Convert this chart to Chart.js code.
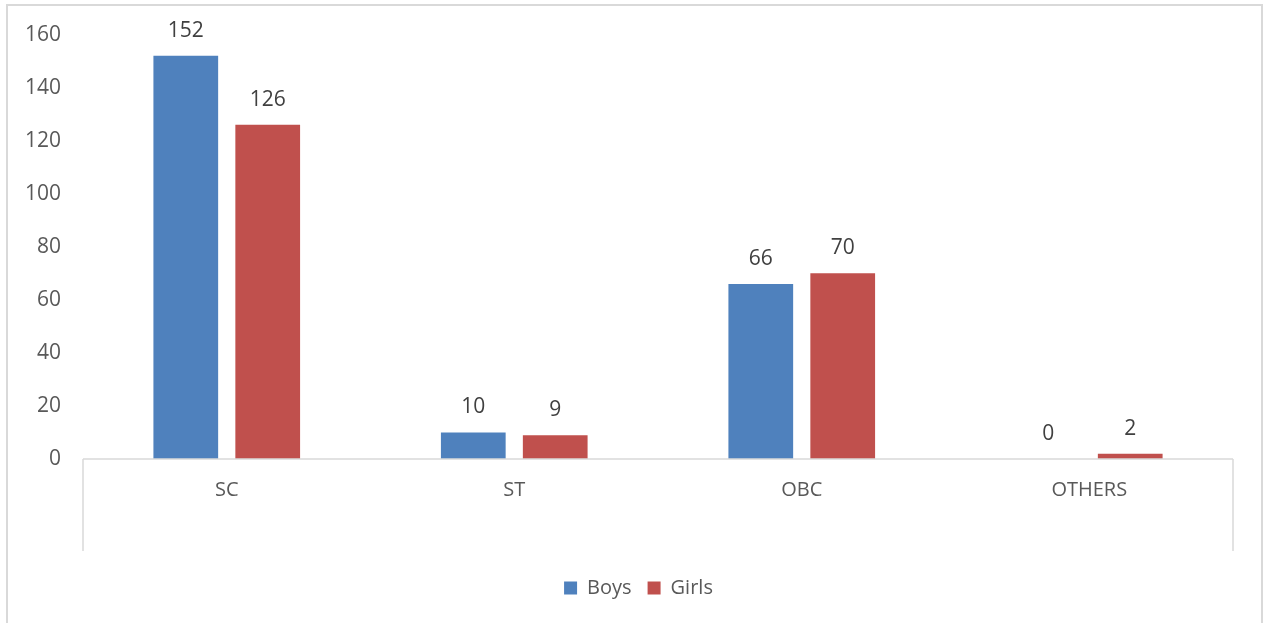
<!DOCTYPE html>
<html>
<head>
<meta charset="utf-8">
<script src="https://cdn.jsdelivr.net/npm/chart.js@4.4.1/dist/chart.umd.min.js"></script>
<style>
  html, body { margin: 0; padding: 0; background: #fff; }
  #wrap { position: relative; width: 1265px; height: 623px; }
</style>
</head>
<body>
<div id="wrap"><canvas id="grafico"></canvas></div>
<script>
const categorias = ['SC', 'ST', 'OBC', 'OTHERS'];
const meninos = [152, 10, 66, 0];
const meninas = [126, 9, 70, 2];
const ticksY = [0, 20, 40, 60, 80, 100, 120, 140, 160];

const FONTE = "'Open Sans', sans-serif";

// rótulos de valor acima das barras
const rotulosPlugin = {
    id: 'rotulos',
    afterDatasetsDraw(chart) {
        const ctx = chart.ctx;
        ctx.save();
        ctx.font = '21px ' + FONTE;
        ctx.fillStyle = '#404040';
        ctx.textAlign = 'center';
        ctx.textBaseline = 'middle';
        chart.data.datasets.forEach((ds, i) => {
            chart.getDatasetMeta(i).data.forEach((bar, j) => {
                ctx.fillText(String(ds.data[j]), bar.x, bar.y - 25);
            });
        });
        ctx.restore();
    }
};

// moldura externa + caixa das categorias (estilo Excel)
const molduraPlugin = {
    id: 'moldura',
    afterLayout(chart) {
        // legenda centrada um pouco mais à direita, como no original
        chart.legend.left += 22;
        chart.legend.right += 22;
    },
    beforeDraw(chart) {
        const ctx = chart.ctx;
        ctx.save();
        ctx.strokeStyle = '#d9d9d9';
        ctx.lineWidth = 2;
        ctx.strokeRect(7, 5, 1255, 640);
        ctx.restore();
    },
    afterDraw(chart) {
        const ctx = chart.ctx;
        const a = chart.chartArea;
        ctx.save();
        ctx.strokeStyle = '#d9d9d9';
        ctx.lineWidth = 1.5;
        ctx.beginPath();
        ctx.moveTo(a.left, a.bottom);
        ctx.lineTo(a.right, a.bottom);
        ctx.moveTo(a.left, a.bottom);
        ctx.lineTo(a.left, a.bottom + 92);
        ctx.moveTo(a.right, a.bottom);
        ctx.lineTo(a.right, a.bottom + 92);
        ctx.stroke();
        ctx.restore();
    }
};

new Chart(document.getElementById('grafico'), {
    type: 'bar',
    data: {
        labels: categorias,
        datasets: [
            { label: 'Boys', data: meninos, backgroundColor: '#4F81BD' },
            { label: 'Girls', data: meninas, backgroundColor: '#C0504D' }
        ]
    },
    options: {
        responsive: true,
        maintainAspectRatio: false,
        animation: false,
        datasets: { bar: { categoryPercentage: 0.57, barPercentage: 0.79 } },
        layout: { padding: { top: 22, right: 32, bottom: 15, left: 0 } },
        plugins: {
            tooltip: { enabled: false },
            legend: {
                position: 'bottom',
                labels: {
                    boxWidth: 13,
                    boxHeight: 13,
                    padding: 16,
                    color: '#595959',
                    font: { family: FONTE, size: 20 }
                }
            }
        },
        scales: {
            x: {
                grid: { display: false },
                border: { display: false },
                ticks: { color: '#595959', font: { family: FONTE, size: 20 }, padding: 11 },
                afterFit(scale) { scale.height = 103; }
            },
            y: {
                min: 0,
                max: 160,
                afterBuildTicks(scale) { scale.ticks = ticksY.map(v => ({ value: v })); },
                grid: { display: false, drawTicks: false },
                border: { display: false },
                ticks: { color: '#595959', font: { family: FONTE, size: 21 }, padding: 22 },
                afterFit(scale) { scale.width = 83; }
            }
        }
    },
    plugins: [rotulosPlugin, molduraPlugin]
});
</script>
</body>
</html>
